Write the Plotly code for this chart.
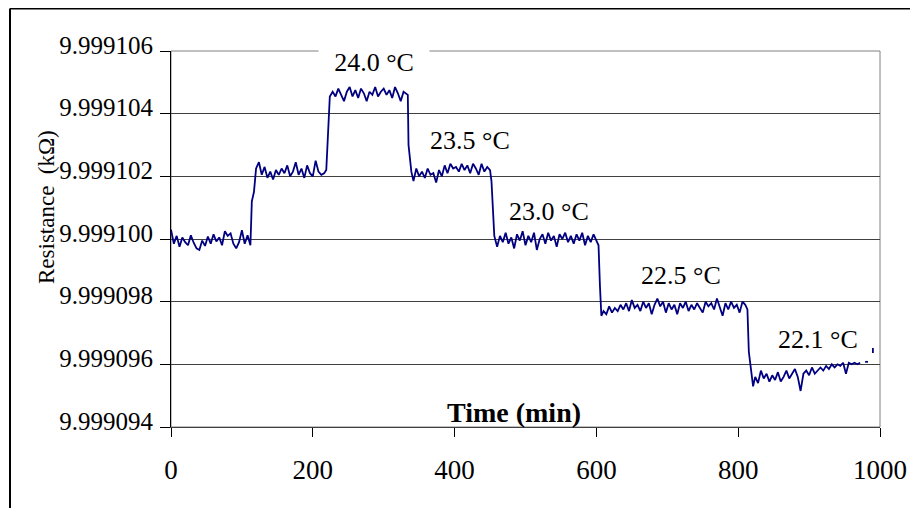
import plotly.graph_objects as go

# ---------------- data ----------------
time_min = [
    0, 4, 8, 12, 16, 20, 24, 28, 32, 36, 40, 44, 48, 52, 56, 60, 64, 68, 72, 76, 80, 84, 88, 92, 96, 100, 104, 108, 112,
    114, 117, 120,
    124, 128, 132, 136, 140, 144, 148, 152, 156, 160, 164, 168, 172, 176, 180, 184, 188, 192, 196, 200, 204, 208, 212, 216, 219,
    221, 222, 224,
    228, 232, 236, 240, 244, 248, 252, 256, 260, 264, 268, 272, 276, 280, 284, 288, 292, 296, 300, 304, 308, 312, 316, 320, 324, 328, 332,
    334, 335, 337, 339,
    342, 346, 350, 354, 358, 362, 366, 370, 374, 378, 382, 386, 390, 394, 398, 402, 406, 410, 414, 418, 422, 426, 430, 434, 438, 442, 446, 450,
    452, 454, 456,
    460, 464, 468, 472, 476, 480, 484, 488, 492, 496, 500, 504, 508, 512, 516, 520, 524, 528, 532, 536, 540, 544, 548, 552, 556, 560, 564, 568,
    572, 576, 580, 584, 588, 592, 596, 600,
    603, 605, 607,
    610, 614, 618, 622, 626, 630, 634, 638, 642, 646, 650, 654, 658, 662, 666, 670, 674, 678, 682, 686, 690, 694, 698, 702, 706, 710, 714, 718,
    722, 726, 730, 734, 738, 742, 746, 750, 754, 758, 762, 766, 770, 774, 778, 782, 786, 790, 794, 798, 802, 806, 810,
    813, 815, 818, 821,
    824, 828, 832, 836, 840, 844, 848, 852, 856, 860, 864, 868, 872, 876, 880, 884, 888, 892, 896, 900, 904, 908, 912, 916, 920, 924, 928, 932,
    936, 940, 944, 948, 952, 956, 960, 964, 968, 972,
    975, 979, 983, 986, 990, 990,
]

resistance_kohm = [
    # start level (~9.999100)
    9.99910030, 9.99909985, 9.99910010, 9.99909975, 9.99910005, 9.99909990, 9.99909980, 9.99910012, 9.99909988, 9.99909970,
    9.99909965, 9.99909995, 9.99909978, 9.99910008, 9.99909985, 9.99910015, 9.99909992, 9.99910005, 9.99909980, 9.99910025,
    9.99910010, 9.99910018, 9.99909985, 9.99909970, 9.99909990, 9.99910028, 9.99909985, 9.99910012, 9.99909980,
    9.99910120, 9.99910150, 9.99910225,
    # ~9.999102
    9.99910245, 9.99910205, 9.99910230, 9.99910195, 9.99910215, 9.99910190, 9.99910220, 9.99910205, 9.99910225, 9.99910210,
    9.99910235, 9.99910200, 9.99910215, 9.99910245, 9.99910205, 9.99910225, 9.99910195, 9.99910235, 9.99910210, 9.99910200,
    9.99910250, 9.99910215, 9.99910205, 9.99910210, 9.99910220,
    9.99910310, 9.99910400, 9.99910455,
    # 24.0 C (~9.9991046)
    9.99910470, 9.99910455, 9.99910480, 9.99910460, 9.99910440, 9.99910470, 9.99910485, 9.99910455, 9.99910475, 9.99910450,
    9.99910480, 9.99910465, 9.99910440, 9.99910470, 9.99910460, 9.99910485, 9.99910455, 9.99910470, 9.99910480, 9.99910460,
    9.99910475, 9.99910450, 9.99910485, 9.99910465, 9.99910440, 9.99910470, 9.99910465,
    9.99910460, 9.99910300, 9.99910260, 9.99910215,
    # 23.5 C (~9.9991022)
    9.99910185, 9.99910225, 9.99910200, 9.99910215, 9.99910195, 9.99910225, 9.99910205, 9.99910210, 9.99910180, 9.99910220,
    9.99910200, 9.99910235, 9.99910210, 9.99910240, 9.99910225, 9.99910230, 9.99910215, 9.99910240, 9.99910220, 9.99910235,
    9.99910210, 9.99910240, 9.99910225, 9.99910205, 9.99910240, 9.99910215, 9.99910230, 9.99910220,
    9.99910185, 9.99910080, 9.99910010,
    # 23.0 C (~9.9991000)
    9.99909975, 9.99910010, 9.99909990, 9.99910020, 9.99909985, 9.99910005, 9.99909970, 9.99910015, 9.99909995, 9.99910025,
    9.99909980, 9.99910010, 9.99909990, 9.99910020, 9.99909965, 9.99910000, 9.99910015, 9.99909985, 9.99910020, 9.99909995,
    9.99910010, 9.99909975, 9.99910015, 9.99910000, 9.99910020, 9.99909990, 9.99910010, 9.99909985, 9.99910015, 9.99909995,
    9.99910020, 9.99909980, 9.99910010, 9.99909990, 9.99910015, 9.99909995,
    9.99909980, 9.99909850, 9.99909755,
    # 22.5 C (~9.9990978)
    9.99909770, 9.99909760, 9.99909785, 9.99909765, 9.99909780, 9.99909770, 9.99909790, 9.99909775, 9.99909795, 9.99909770,
    9.99909805, 9.99909780, 9.99909790, 9.99909770, 9.99909800, 9.99909780, 9.99909795, 9.99909760, 9.99909790, 9.99909810,
    9.99909785, 9.99909800, 9.99909765, 9.99909795, 9.99909775, 9.99909790, 9.99909760, 9.99909795, 9.99909780, 9.99909800,
    9.99909770, 9.99909790, 9.99909775, 9.99909795, 9.99909780, 9.99909765, 9.99909800, 9.99909785, 9.99909795, 9.99909775,
    9.99909810, 9.99909780, 9.99909755, 9.99909795, 9.99909775, 9.99909800, 9.99909780, 9.99909790, 9.99909765, 9.99909800,
    9.99909790,
    9.99909775, 9.99909640, 9.99909585, 9.99909530,
    # 22.1 C (~9.9990956 rising to 9.999096)
    9.99909560, 9.99909540, 9.99909580, 9.99909555, 9.99909570, 9.99909545, 9.99909565, 9.99909550, 9.99909575, 9.99909545,
    9.99909560, 9.99909580, 9.99909555, 9.99909570, 9.99909585, 9.99909560, 9.99909515, 9.99909570, 9.99909580, 9.99909565,
    9.99909590, 9.99909570, 9.99909580, 9.99909590, 9.99909580, 9.99909595, 9.99909585, 9.99909600, 9.99909590, 9.99909600,
    9.99909595, 9.99909605, 9.99909570, 9.99909605, 9.99909600, 9.99909605, 9.99909600, 9.99909605,
    None, 9.99909608, 9.99909608, None, 9.99909636, 9.99909652,
]

y_tick_values = [9.999094, 9.999096, 9.999098, 9.999100, 9.999102, 9.999104, 9.999106]
y_tick_labels = ["9.999094", "9.999096", "9.999098", "9.999100", "9.999102", "9.999104", "9.999106"]
x_tick_values = [0, 200, 400, 600, 800, 1000]
x_tick_labels = ["0", "200", "400", "600", "800", "1000"]

temp_labels = ["24.0 °C", "23.5 °C", "23.0 °C", "22.5 °C", "22.1 °C"]
temp_label_x = [286.3, 421.7, 533.1, 719.3, 912.6]
temp_label_y = [9.99910563, 9.99910313, 9.99910089, 9.99909882, 9.99909678]

# ---------------- figure ----------------
SERIF = "Liberation Serif, Times New Roman, serif"
PAGE_OFF = 8                      # default body margin of the html page
PL, PT = 171, 51                  # plot-area left/top in window pixels
pw, ph = 709, 376                 # plot-area size
W, H = 918 - PAGE_OFF, 508 - PAGE_OFF
L, T = PL - PAGE_OFF, PT - PAGE_OFF
R, B = W - L - pw, H - T - ph

fig = go.Figure()
fig.add_trace(go.Scatter(
    x=time_min, y=resistance_kohm, mode="lines",
    line=dict(color="#000080", width=1.8),
    connectgaps=False, showlegend=False, hoverinfo="skip",
))

# plot-area border (grey) drawn below the data
fig.add_shape(type="rect", xref="paper", yref="paper", x0=0, x1=1, y0=0, y1=1,
              line=dict(color="#808080", width=1), layer="below")

# outer chart frame (top and left edges visible)
fx = (10 - PL) / pw
fy = 1 + (PT - 8.5) / ph
fig.add_shape(type="line", xref="paper", yref="paper", x0=fx, x1=1.5, y0=fy, y1=fy,
              line=dict(color="black", width=2))
fig.add_shape(type="line", xref="paper", yref="paper", x0=fx, x1=fx, y0=fy, y1=-0.5,
              line=dict(color="black", width=2))

for i, (txt, tx, ty) in enumerate(zip(temp_labels, temp_label_x, temp_label_y)):
    kw = {}
    if i == 0:
        kw = dict(bgcolor="white", width=108, height=27)
    fig.add_annotation(x=tx, y=ty, xref="x", yref="y", text=txt, showarrow=False,
                       font=dict(family=SERIF, size=26, color="black"),
                       xanchor="center", yanchor="middle", **kw)

fig.add_annotation(x=(514 - PL) / pw, y=(427 - 412) / ph, xref="paper", yref="paper",
                   text="<b>Time (min)</b>", showarrow=False,
                   font=dict(family=SERIF, size=28, color="black"),
                   xanchor="center", yanchor="middle")

fig.add_annotation(x=(46 - PL) / pw, y=(427 - 207) / ph, xref="paper", yref="paper",
                   text="Resistance  (kΩ)", textangle=-90, showarrow=False,
                   font=dict(family=SERIF, size=23, color="black"),
                   xanchor="center", yanchor="middle")

fig.update_layout(
    width=W, height=H,
    margin=dict(l=L, r=R, t=T, b=B, pad=0),
    paper_bgcolor="white", plot_bgcolor="white",
    showlegend=False,
)
fig.update_xaxes(
    range=[0, 1000], tickmode="array", tickvals=x_tick_values, ticktext=x_tick_labels,
    ticks="outside", ticklen=9, tickcolor="black", tickwidth=1,
    tickfont=dict(family=SERIF, size=27, color="black"),
    ticklabelstandoff=10,
    showgrid=False, zeroline=False, showline=True, linecolor="#404040", linewidth=1,
    automargin=False,
)
fig.update_yaxes(
    range=[9.999094, 9.999106], tickmode="array", tickvals=y_tick_values, ticktext=y_tick_labels,
    ticks="outside", ticklen=10, tickcolor="black", tickwidth=1,
    tickfont=dict(family=SERIF, size=25, color="black"),
    ticklabelstandoff=2, ticklabelshift=-6,
    showgrid=True, gridcolor="#404040", gridwidth=1,
    zeroline=False, showline=True, linecolor="black", linewidth=1,
    automargin=False,
)

fig.write_html("out.html")
